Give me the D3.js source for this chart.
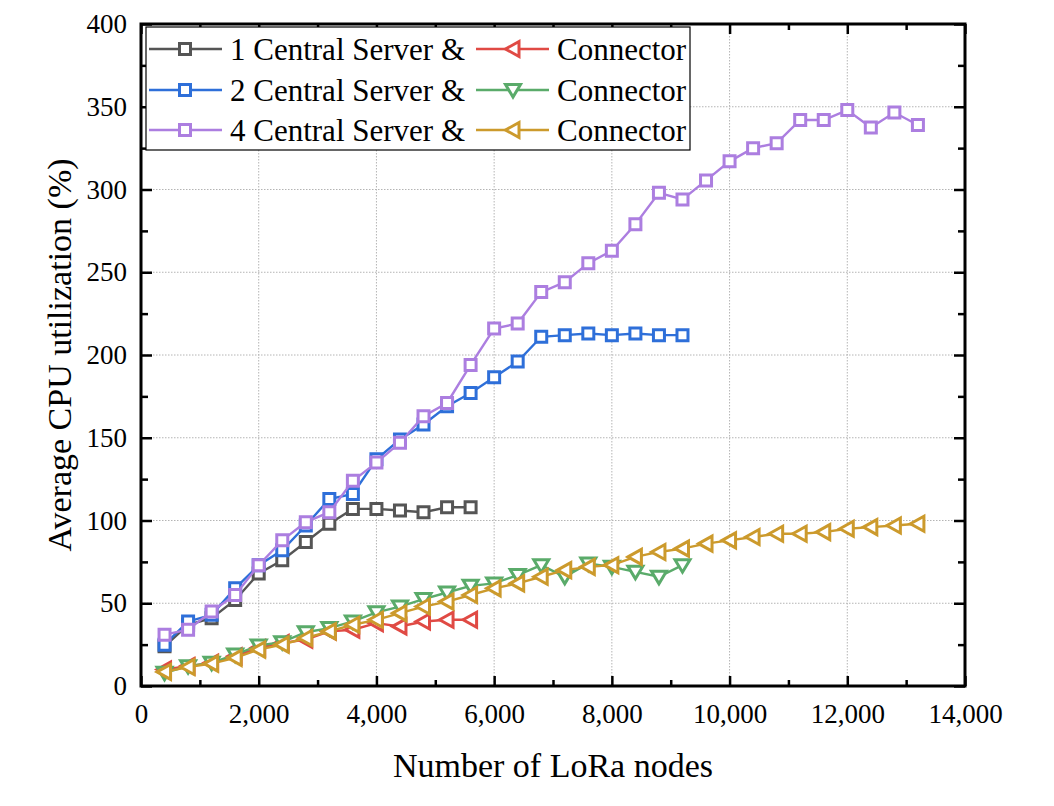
<!DOCTYPE html>
<html>
<head>
  <meta charset="utf-8">
  <title>Average CPU utilization</title>
  <style>
    body { margin: 0; background: #fff; }
    text { font-family: "Liberation Serif", "DejaVu Serif", serif; fill: #000; }
    .grid line { stroke: #b4b4b4; stroke-width: 1; stroke-dasharray: 1.5,1.5; }
  </style>
  <script src="https://d3js.org/d3.v7.min.js"></script>
</head>
<body>
  <script>
    // node counts
    var nodes = d3.range(1, 34).map(function (i) { return i * 400; });

    var cs1 = [24, 37, 41, 52, 68, 76, 87, 98, 107, 107, 106, 105, 108, 108];
    var cs2 = [25, 39, 43, 59, 73, 82, 97, 113, 116, 137, 149, 158, 169, 177, 186.5, 196, 211, 212, 213, 212, 213, 212, 212];
    var cs4 = [31, 34, 45, 55, 73, 88, 99, 105, 124, 135, 147, 163, 171, 194, 216, 219, 238, 244, 255.5, 263, 279, 298, 294, 305.5, 317, 325, 328, 342, 342, 348, 337.5, 346.5, 339];
    var conn1 = [10, 12, 14, 18, 23, 26, 28, 33, 34, 38, 36, 39, 40, 40];
    var conn2 = [8, 12, 14, 19, 24.5, 26.5, 32.5, 35, 39, 44.5, 48, 52.5, 56.5, 60.5, 62, 67, 73, 66, 74, 72, 69, 66, 73];
    var conn4 = [8.5, 11.5, 13.5, 17, 22, 25, 29, 33, 37, 40, 44, 48, 51, 55, 59, 62, 66, 70, 72, 73, 78, 81, 83, 86, 88, 90, 92, 92, 93, 95, 96, 97, 98];

    var legendLeft = ["1 Central Server &", "2 Central Server &", "4 Central Server &"];
    var legendRight = ["Connector", "Connector", "Connector"];

    var xTicks = d3.range(0, 14001, 2000);
    var yTicks = d3.range(0, 401, 50);

    var series = [
      {name: "1 Central Server", values: cs1, color: "#555555", shape: "square"},
      {name: "2 Central Server", values: cs2, color: "#2e6fd9", shape: "square"},
      {name: "4 Central Server", values: cs4, color: "#ac7ee0", shape: "square"},
      {name: "1 Connector", values: conn1, color: "#e04a44", shape: "left"},
      {name: "2 Connector", values: conn2, color: "#5aab6a", shape: "down"},
      {name: "4 Connector", values: conn4, color: "#cc9a2c", shape: "left"}
    ];

    var width = 1054, height = 806;
    var plotL = 141, plotR = 965, plotT = 24, plotB = 686;

    var svg = d3.select("body").append("svg")
      .attr("width", width)
      .attr("height", height);

    var x = d3.scaleLinear().domain([0, 14000]).range([plotL, plotR]);
    var y = d3.scaleLinear().domain([0, 400]).range([plotB, plotT]);

    // grid
    var grid = svg.append("g").attr("class", "grid");
    grid.selectAll(".gx").data(xTicks.slice(1, -1)).enter().append("line")
      .attr("x1", d => x(d)).attr("x2", d => x(d))
      .attr("y1", plotT).attr("y2", plotB);
    grid.selectAll(".gy").data(yTicks.slice(1, -1)).enter().append("line")
      .attr("x1", plotL).attr("x2", plotR)
      .attr("y1", d => y(d)).attr("y2", d => y(d));

    // axes with inward ticks on all four sides
    var fmt = d3.format(",");
    var axisStyle = function (g) {
      g.select(".domain").remove();
      g.selectAll(".tick line").attr("stroke", "#000").attr("stroke-width", 2.5);
      g.selectAll("text").attr("font-size", 27).attr("font-family", "Liberation Serif").attr("fill", "#000");
    };
    var xMinor = d3.range(1000, 14000, 2000);
    var yMinor = d3.range(25, 400, 50);

    svg.append("g").attr("transform", "translate(0," + plotB + ")")
      .call(d3.axisBottom(x).tickValues(xTicks).tickFormat(d => fmt(d)).tickSizeInner(-10).tickPadding(18))
      .call(axisStyle);
    svg.append("g").attr("transform", "translate(0," + plotB + ")")
      .call(d3.axisBottom(x).tickValues(xMinor).tickFormat("").tickSizeInner(-6))
      .call(axisStyle);
    svg.append("g").attr("transform", "translate(0," + plotT + ")")
      .call(d3.axisTop(x).tickValues(xTicks).tickFormat("").tickSizeInner(-10))
      .call(axisStyle);
    svg.append("g").attr("transform", "translate(0," + plotT + ")")
      .call(d3.axisTop(x).tickValues(xMinor).tickFormat("").tickSizeInner(-6))
      .call(axisStyle);

    svg.append("g").attr("transform", "translate(" + plotL + ",0)")
      .call(d3.axisLeft(y).tickValues(yTicks).tickSizeInner(-11).tickPadding(14))
      .call(axisStyle);
    svg.append("g").attr("transform", "translate(" + plotL + ",0)")
      .call(d3.axisLeft(y).tickValues(yMinor).tickFormat("").tickSizeInner(-7))
      .call(axisStyle);
    svg.append("g").attr("transform", "translate(" + plotR + ",0)")
      .call(d3.axisRight(y).tickValues(yTicks).tickFormat("").tickSizeInner(-11))
      .call(axisStyle);
    svg.append("g").attr("transform", "translate(" + plotR + ",0)")
      .call(d3.axisRight(y).tickValues(yMinor).tickFormat("").tickSizeInner(-7))
      .call(axisStyle);

    // frame
    svg.append("rect")
      .attr("x", plotL).attr("y", plotT)
      .attr("width", plotR - plotL).attr("height", plotB - plotT)
      .attr("fill", "none").attr("stroke", "#000").attr("stroke-width", 3);

    // markers
    function markerPath(shape) {
      if (shape === "square") return "M-5.5,-5.5H5.5V5.5H-5.5Z";
      if (shape === "down") return "M-7.5,-5.5H7.5L0,7Z";
      return "M-7.5,0L6,-7.5V7.5Z"; // left-pointing triangle
    }

    var line = d3.line()
      .x((d, i) => x(nodes[i]))
      .y(d => y(d));

    series.forEach(function (s) {
      var g = svg.append("g");
      g.append("path")
        .attr("d", line(s.values))
        .attr("fill", "none")
        .attr("stroke", s.color)
        .attr("stroke-width", 2.4);
      g.selectAll("path.m").data(s.values).enter().append("path")
        .attr("class", "m")
        .attr("transform", (d, i) => "translate(" + x(nodes[i]) + "," + y(d) + ")")
        .attr("d", markerPath(s.shape))
        .attr("fill", "#fff")
        .attr("stroke", s.color)
        .attr("stroke-width", 3);
    });

    // legend
    var legend = svg.append("g");
    legend.append("rect")
      .attr("x", 146).attr("y", 27).attr("width", 544).attr("height", 123)
      .attr("fill", "#fff").attr("stroke", "#000").attr("stroke-width", 1.2);

    var rowsY = [49, 90, 130];
    legendLeft.forEach(function (label, i) {
      var sl = series[i], sr = series[i + 3];
      legend.append("line").attr("x1", 149).attr("x2", 222)
        .attr("y1", rowsY[i]).attr("y2", rowsY[i])
        .attr("stroke", sl.color).attr("stroke-width", 2.4);
      legend.append("path").attr("transform", "translate(185," + rowsY[i] + ")")
        .attr("d", markerPath(sl.shape)).attr("fill", "#fff")
        .attr("stroke", sl.color).attr("stroke-width", 3);
      legend.append("text").attr("x", 230).attr("y", rowsY[i] + 11)
        .attr("font-size", 31).text(label);

      legend.append("line").attr("x1", 476).attr("x2", 549)
        .attr("y1", rowsY[i]).attr("y2", rowsY[i])
        .attr("stroke", sr.color).attr("stroke-width", 2.4);
      legend.append("path").attr("transform", "translate(513," + rowsY[i] + ")")
        .attr("d", markerPath(sr.shape)).attr("fill", "#fff")
        .attr("stroke", sr.color).attr("stroke-width", 3);
      legend.append("text").attr("x", 557).attr("y", rowsY[i] + 11)
        .attr("font-size", 31).text(legendRight[i]);
    });

    // axis titles
    svg.append("text")
      .attr("x", (plotL + plotR) / 2).attr("y", 777)
      .attr("text-anchor", "middle").attr("font-size", 34)
      .text("Number of LoRa nodes");
    svg.append("text")
      .attr("transform", "translate(71," + (plotT + plotB) / 2 + ") rotate(-90)")
      .attr("text-anchor", "middle").attr("font-size", 34)
      .text("Average CPU utilization (%)");
  </script>
</body>
</html>
